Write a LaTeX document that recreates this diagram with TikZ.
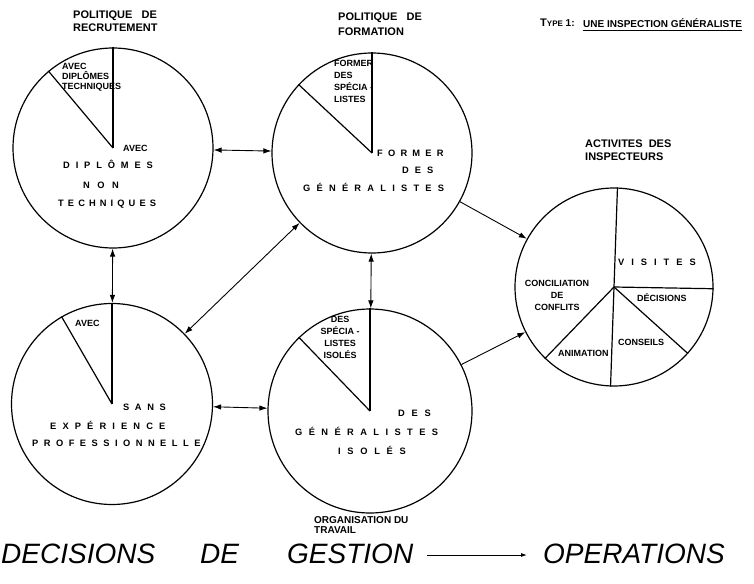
\documentclass[tikz,border=0pt]{standalone}
\usepackage{fontspec}
\setmainfont{Liberation Sans}
\usetikzlibrary{arrows.meta}
\def\trk{.6em}
\def\spcA#1{#1\spcB}
\def\spcB#1{\ifx#1\relax\else\kern\trk#1\expandafter\spcB\fi}
\newcommand\spaced[2][.6em]{\def\trk{#1}\spcA#2\relax}
\begin{document}
\begin{tikzpicture}[x=1pt,y=-1pt,
  pie/.style={circle,draw,line width=1.2pt,inner sep=0pt},
  rad/.style={line width=1.2pt},
  lab/.style={font=\bfseries\fontsize{9}{10}\selectfont,inner sep=0pt,align=left},
  spc/.style={font=\bfseries\fontsize{9.3}{10}\selectfont,inner sep=0pt,anchor=west},
  ttl/.style={font=\bfseries\fontsize{11}{13}\selectfont,inner sep=0pt,align=left,anchor=north west},
  big/.style={font=\itshape\fontsize{28}{30}\selectfont,inner sep=0pt,anchor=base west},
  conn/.style={line width=0.9pt,{Latex[length=8pt,width=5.5pt]}-{Latex[length=8pt,width=5.5pt]}},
  oneway/.style={line width=0.9pt,-{Latex[length=8pt,width=5.5pt]}}]
\useasboundingbox (0,0) rectangle (754,583);
% circles
\node[pie,minimum size=200pt] (c1) at (113,148) {};
\node[pie,minimum size=200pt] (c2) at (372,153) {};
\node[pie,minimum size=201pt] (c3) at (112,404) {};
\node[pie,minimum size=204pt] (c4) at (370,411) {};
\node[pie,minimum size=198pt] (c5) at (614,287) {};
% radial lines
\draw[rad] (c1.center) -- (c1.90);
\draw[rad] (c1.center) -- (c1.130);
\draw[rad] (c2.center) -- (c2.90);
\draw[rad] (c2.center) -- (c2.137);
\draw[rad] (c3.center) -- (c3.90);
\draw[rad] (c3.center) -- (c3.120);
\draw[rad] (c4.center) -- (c4.90);
\draw[rad] (c4.center) -- (c4.134);
\draw[rad] (c5.center) -- (c5.88);
\draw[rad] (c5.center) -- (c5.-1);
\draw[rad] (c5.center) -- (c5.-42);
\draw[rad] (c5.center) -- (c5.-92);
\draw[rad] (c5.center) -- (c5.226);
% connectors
\draw[conn] (c1) -- (c2);
\draw[conn] (c1) -- (c3);
\draw[conn] (c3) -- (c2);
\draw[conn] (c2) -- (c4);
\draw[conn] (c3) -- (c4);
\draw[oneway] (c2) -- (c5);
\draw[oneway] (c4) -- (c5);
% titles
\node[ttl] (t1) at (73,11) {POLITIQUE\ \ \ DE\\RECRUTEMENT};
\node[ttl,font=\bfseries\fontsize{11}{15}\selectfont] (t2) at (338,13) {POLITIQUE\ \ \ DE\\FORMATION};
\node[ttl] (t5) at (585,140) {ACTIVITES\ \ DES\\INSPECTEURS};
\node[ttl,font=\bfseries\fontsize{10}{10}\selectfont] (t4) at (314,516) {ORGANISATION DU\\TRAVAIL};
\node[inner sep=0pt,anchor=west,font=\bfseries] (typ) at (540,23) {{\fontsize{11}{12}\selectfont T}{\fontsize{8}{10}\selectfont YPE}\fontsize{10}{12}\selectfont\ 1:};
\node[inner sep=0pt,anchor=west,font=\bfseries\fontsize{10}{12}\selectfont] (une) at (583,23) {UNE INSPECTION GÉNÉRALISTE};
\draw[line width=0.8pt] ([yshift=-3pt]une.south west) -- ([yshift=-3pt]une.south east);
% circle 1 texts
\node[lab,anchor=north west] (s1) at (62,63) {AVEC\\DIPLÔMES\\TECHNIQUES};
\node[lab,anchor=west] (a1) at (123,148) {AVEC};
\node[spc] (d1) at (63,164) {\spaced[.63em]{DIPLÔMES}};
\node[spc] (n1) at (83,185) {\spaced[.8em]{NON}};
\node[spc] (e1) at (58,204) {\spaced[.44em]{TECHNIQUES}};
% circle 2 texts
\node[lab,anchor=north west,font=\bfseries\fontsize{9}{12}\selectfont] (s2) at (334,60) {FORMER\\DES\\SPÉCIA -\\LISTES};
\node[spc] (f2) at (377,153) {\spaced[.56em]{FORMER}};
\node[spc] (d2) at (402,170) {\spaced[.65em]{DES}};
\node[spc] (g2) at (303,187) {\spaced[.67em]{GÉNÉRALISTES}};
% circle 3 texts
\node[lab,anchor=west] (a3) at (75,323) {AVEC};
\node[spc] (s3) at (123,407) {\spaced[.6em]{SANS}};
\node[spc] (e3) at (50,425) {\spaced[.66em]{EXPÉRIENCE}};
\node[spc] (p3) at (32,443) {\spaced[.59em]{PROFESSIONNELLE}};
% circle 4 texts
\node[lab,anchor=north,align=center,font=\bfseries\fontsize{9}{12}\selectfont] (s4) at (340,316) {DES\\SPÉCIA -\\LISTES\\ISOLÉS};
\node[spc] (d4) at (398,413) {\spaced[.72em]{DES}};
\node[spc] (g4) at (295,431) {\spaced[.69em]{GÉNÉRALISTES}};
\node[spc] (i4) at (338,450) {\spaced[.72em]{ISOLÉS}};
% circle 5 texts
\node[spc] (v5) at (618,262) {\spaced[.75em]{VISITES}};
\node[lab,anchor=west] (d5) at (637,298) {DÉCISIONS};
\node[lab,anchor=west] (k5) at (618,342) {CONSEILS};
\node[lab,anchor=west] (m5) at (558,353) {ANIMATION};
\node[lab,anchor=north,align=center,font=\bfseries\fontsize{9}{12}\selectfont] (cc5) at (557,280) {CONCILIATION\\DE\\CONFLITS};
% bottom line
\node[big] (b1) at (1,563) {DECISIONS};
\node[big] (b2) at (200,563) {DE};
\node[big] (b3) at (287,563) {GESTION};
\node[big] (b4) at (543,563) {OPERATIONS};
\coordinate (ar1) at (427,555);
\coordinate (ar2) at (527,555);
\draw[line width=0.9pt,-{Latex[length=6pt,width=4pt]}] (ar1) -- (ar2);
\end{tikzpicture}
\end{document}
